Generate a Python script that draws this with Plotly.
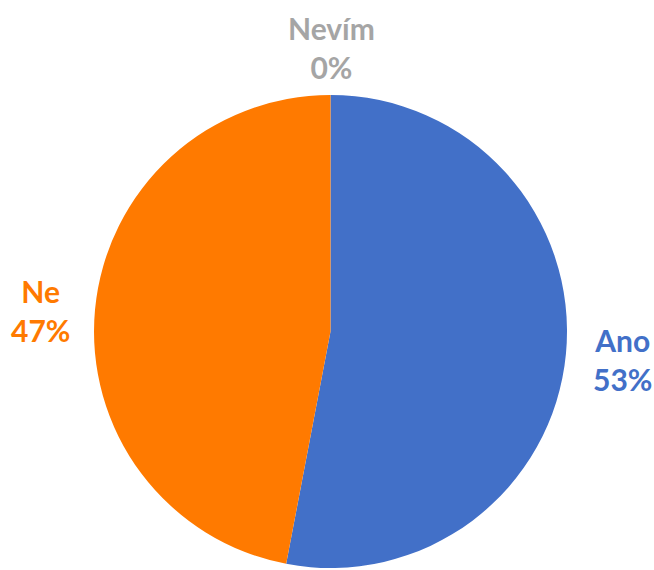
import plotly.graph_objects as go

labels = ["Ano", "Ne", "Nevím"]
values = [53, 47, 0]
colors = ["#4270C8", "#FF7A00", "#A5A5A5"]
title_text = "NULOVÁ TOLERANCE – PRÁCE"

W, H = 654, 570

fig = go.Figure()
fig.add_trace(go.Pie(
    labels=labels, values=values, sort=False, direction="clockwise", rotation=0,
    marker=dict(colors=colors, line=dict(width=0)),
    textinfo="none", hoverinfo="label+percent", showlegend=False,
    domain=dict(x=[93 / W, 568 / W], y=[2 / H, 475 / H]),
))

# Title, partly cut off at the top edge (drawn as clipped text on a hidden full-size axis)
fig.add_trace(go.Scatter(
    x=[0.5], y=[1 + 20 / H], mode="text", text=[f"<b>{title_text}</b>"],
    textposition="middle center", cliponaxis=True, hoverinfo="skip", showlegend=False,
    textfont=dict(family="Lato, Open Sans, sans-serif", size=54, color="#404040"),
))

total = sum(values)
# label positions (paper coords) for each category
label_pos = {
    "Ano": (622 / W, 1 - 359 / H),
    "Ne": (40 / W, 1 - 310 / H),
    "Nevím": (331 / W, 1 - 47 / H),
}
annotations = []
for lab, val, col in zip(labels, values, colors):
    x, y = label_pos[lab]
    annotations.append(dict(
        x=x, y=y, xref="paper", yref="paper", showarrow=False,
        text=f"<b>{lab}</b><br><b>{round(100 * val / total)}%</b>",
        font=dict(family="Lato, Open Sans, sans-serif", size=30, color=col),
        align="center", xanchor="center", yanchor="middle",
    ))

fig.update_layout(
    width=W, height=H, margin=dict(l=0, r=0, t=0, b=0),
    paper_bgcolor="white", plot_bgcolor="rgba(0,0,0,0)",
    annotations=annotations,
    xaxis=dict(range=[0, 1], domain=[0, 1], visible=False, fixedrange=True),
    yaxis=dict(range=[0, 1], domain=[0, 1], visible=False, fixedrange=True),
)
fig.write_html(
    "out.html",
    config={"displayModeBar": False},
    post_script="document.body.style.margin='0';document.body.style.overflow='hidden';",
)
